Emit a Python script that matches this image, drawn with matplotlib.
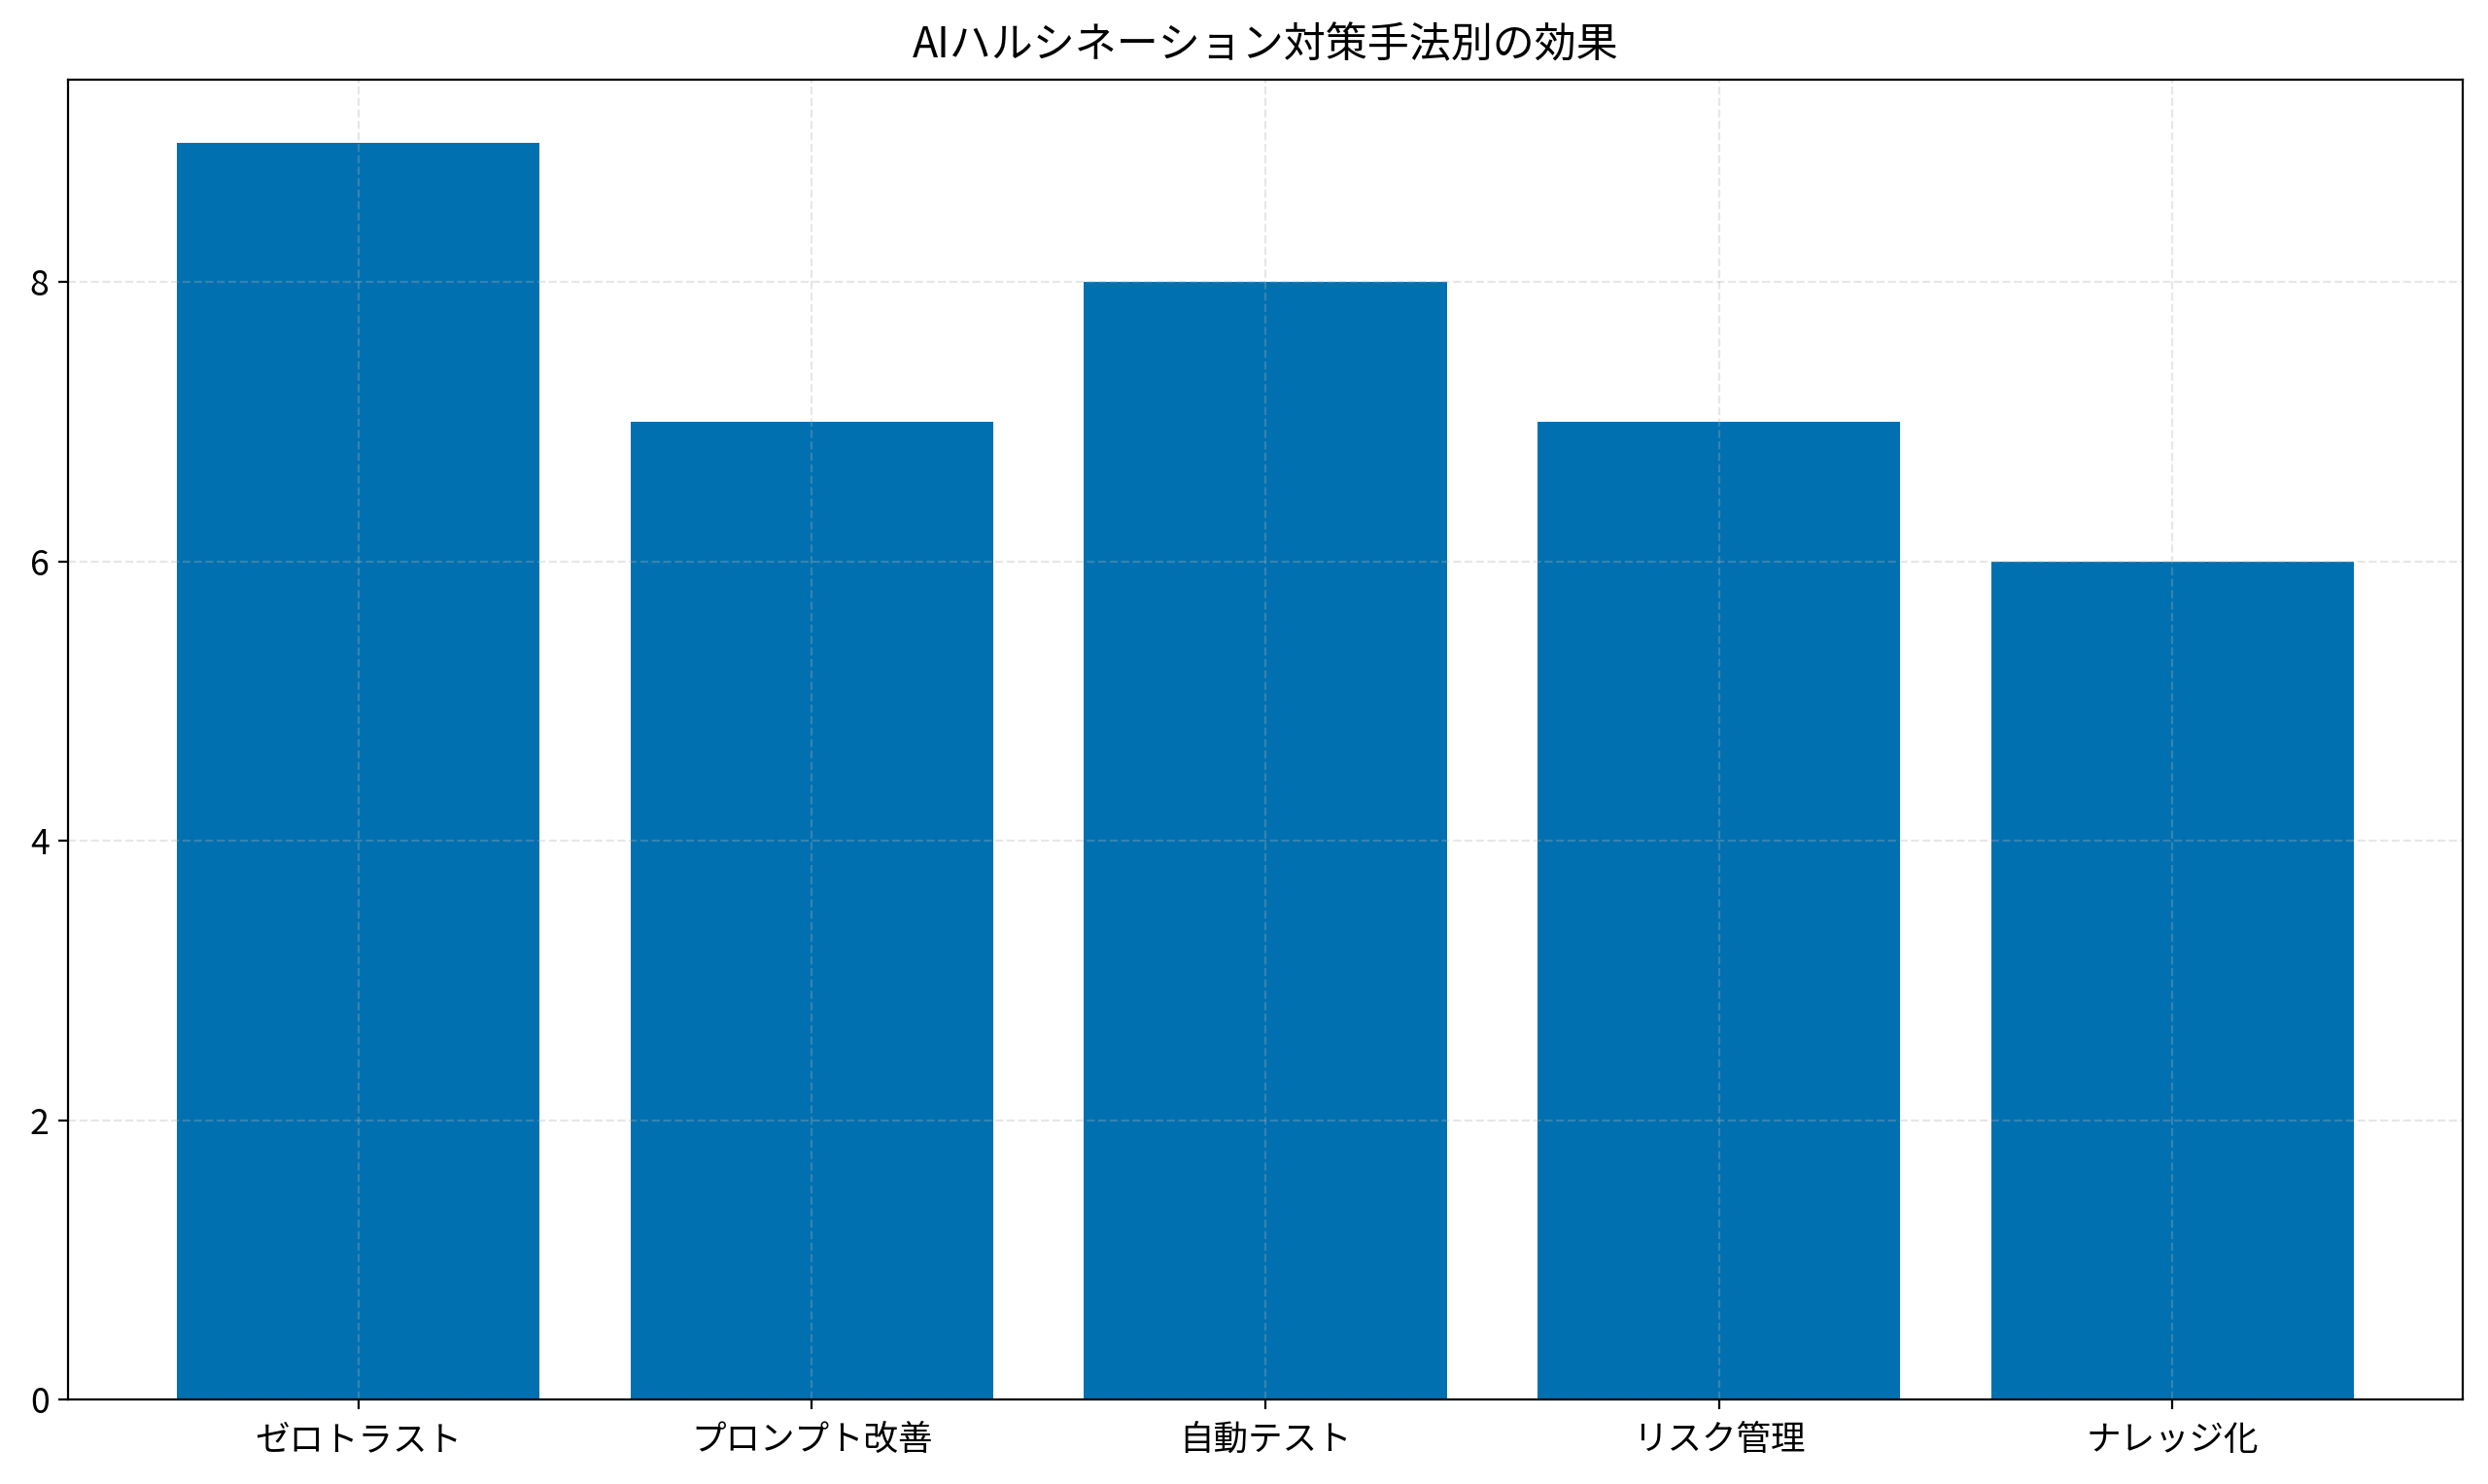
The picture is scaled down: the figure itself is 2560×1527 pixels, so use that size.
import matplotlib
matplotlib.use("Agg")
import matplotlib.pyplot as plt

plt.rcParams['font.family'] = ['Noto Sans CJK JP', 'DejaVu Sans']

categories = ["ゼロトラスト", "プロンプト改善", "自動テスト", "リスク管理", "ナレッジ化"]
values = [9, 7, 8, 7, 6]
title = "AIハルシネーション対策手法別の効果"

fig, ax = plt.subplots(figsize=(12.8, 7.635), dpi=200)
ax.bar(categories, values, color="#0070B0", width=0.8)
ax.set_title(title, fontsize=15.5, pad=8)
ax.tick_params(axis='both', labelsize=12.8)
ax.tick_params(axis='x', pad=5.3)
ax.grid(True, linestyle='--', alpha=0.3)
fig.subplots_adjust(left=70/2560, right=2534/2560, top=1-82/1527, bottom=1-1440/1527)
fig.savefig("out.png", dpi=200)
